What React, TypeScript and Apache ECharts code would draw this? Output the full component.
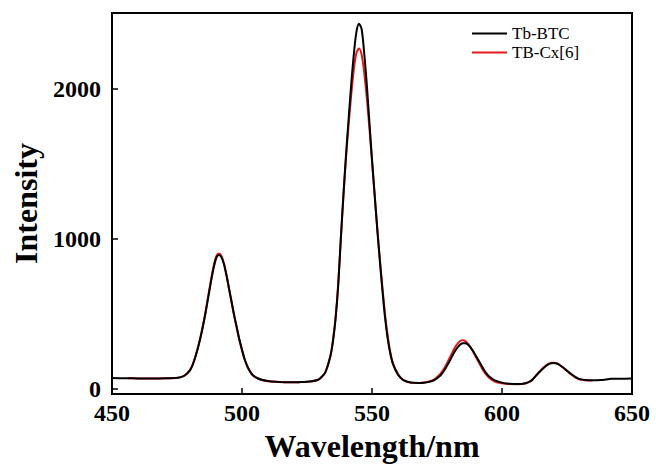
import React, { useEffect, useRef } from "react";
import * as echarts from "echarts";

const wavelength = [
  450, 453, 456, 460, 464, 468, 472, 474, 476, 478,
  480, 481, 482, 483, 484, 485, 486, 487, 488, 489,
  490, 491, 492, 493, 494, 495, 496, 497, 498, 499,
  500, 501, 502, 503, 504, 506, 508, 510, 513, 516,
  519, 522, 525, 527, 529, 530, 532, 534, 535, 536,
  537, 538, 539, 540, 541, 542, 543, 544, 545, 546,
  547, 548, 549, 550, 551, 552, 553, 554, 555, 556,
  557, 558, 560, 562, 565, 568, 570, 572, 574, 576,
  577, 578, 579, 580, 581, 582, 583, 584, 585, 586,
  587, 588, 589, 590, 591, 592, 593, 594, 595, 597,
  600, 603, 606, 609, 611, 612, 613, 614, 615, 616,
  617, 618, 619, 620, 621, 622, 623, 624, 625, 626,
  627, 628, 629, 630, 632, 635, 638, 640, 642, 645,
  650,
];

const tbBtc = [
  73, 72, 72, 71, 71, 71, 72, 73, 77, 90,
  125, 160, 210, 270, 340, 420, 510, 610, 710, 800,
  868, 893, 882, 835, 760, 670, 580, 490, 410, 330,
  262, 200, 155, 120, 96, 72, 60, 53, 48, 46,
  45, 46, 48, 52, 60, 70, 110, 220, 320, 470,
  690, 1000, 1290, 1560, 1800, 2030, 2230, 2380, 2435, 2400,
  2240, 2030, 1780, 1530, 1300, 1070, 860, 660, 480, 340,
  240, 170, 95, 60, 43, 40, 42, 48, 60, 85,
  105, 130, 160, 190, 225, 255, 280, 298, 306, 305,
  295, 275, 250, 220, 190, 160, 130, 105, 85, 60,
  43, 35, 33, 39, 53, 68, 88, 107, 124, 140,
  155, 166, 172, 173, 170, 162, 150, 137, 122, 108,
  95, 83, 73, 66, 60, 58, 60, 64, 68, 69,
  70,
];

const tbCx6 = [
  null, null, 72, 71, 70, 71, 72, 73, 78, 92,
  128, 163, 213, 274, 345, 425, 518, 620, 720, 812,
  880, 903, 890, 842, 765, 672, 580, 488, 405, 325,
  258, 197, 152, 118, 94, 71, 59, 52, 48, 46,
  45, 46, 48, 52, 60, 70, 110, 220, 330, 480,
  700, 1000, 1280, 1540, 1760, 1960, 2130, 2240, 2270, 2230,
  2110, 1940, 1740, 1520, 1300, 1080, 870, 680, 500, 360,
  250, 175, 100, 62, 42, 40, 43, 50, 65, 95,
  118, 145, 178, 212, 248, 280, 305, 322, 326, 318,
  300, 275, 245, 212, 180, 148, 118, 95, 75, 52,
  38, 33, 32, 37, 52, 68, 88, 108, 126, 143,
  158, 169, 175, 176, 172, 163, 150, 136, 120, 105,
  92, 80, 71, 64, 59, 57, null, null, null, null,
  null,
];

const xTicks = [450, 500, 550, 600, 650];
const yTicks = [0, 1000, 2000];
const seriesNames = ["Tb-BTC", "TB-Cx[6]"];

const FONT = "'Liberation Serif', 'Times New Roman', serif";

export default function App() {
  const ref = useRef<HTMLDivElement>(null);
  useEffect(() => {
    if (!ref.current) return;
    const chart = echarts.init(ref.current, undefined, { renderer: "svg" });
    const pair = (vals: (number | null)[]) =>
      wavelength.map((w, i) => [w, vals[i]]);
    chart.setOption({
      animation: false,
      backgroundColor: "#fff",
      grid: {
        left: 112,
        right: 24,
        top: 13,
        bottom: 74,
        containLabel: false,
        outerBoundsMode: "none",
        show: true,
        borderColor: "#000",
        borderWidth: 2,
      },
      legend: {
        data: seriesNames.map((n) => ({ name: n, icon: "rect" })),
        orient: "vertical",
        left: 467,
        top: 20,
        itemWidth: 35,
        itemHeight: 2,
        itemGap: 2,
        textStyle: { fontFamily: FONT, fontSize: 17, color: "#000" },
      },
      xAxis: {
        type: "value",
        min: 450,
        max: 650,
        name: "Wavelength/nm",
        nameLocation: "middle",
        nameGap: 26,
        nameTextStyle: {
          fontFamily: FONT,
          fontSize: 32,
          fontWeight: "bold",
          color: "#000",
        },
        axisLine: {
          show: true,
          onZero: false,
          lineStyle: { color: "#000", width: 2 },
        },
        axisTick: {
          show: true,
          inside: true,
          length: 6,
          lineStyle: { color: "#000", width: 1.5 },
          customValues: xTicks,
        },
        axisLabel: {
          fontFamily: FONT,
          fontSize: 24,
          fontWeight: "bold",
          color: "#000",
          margin: 7,
          customValues: xTicks,
          formatter: (v: number) => String(v),
        },
        splitLine: { show: false },
      },
      yAxis: {
        type: "value",
        min: -33,
        max: 2507,
        name: "Intensity",
        nameLocation: "middle",
        nameGap: 66,
        nameRotate: 90,
        nameTextStyle: {
          fontFamily: FONT,
          fontSize: 32,
          fontWeight: "bold",
          color: "#000",
        },
        axisLine: {
          show: true,
          onZero: false,
          lineStyle: { color: "#000", width: 2 },
        },
        axisTick: {
          show: true,
          inside: true,
          length: 6,
          lineStyle: { color: "#000", width: 1.5 },
          customValues: yTicks,
        },
        axisLabel: {
          fontFamily: FONT,
          fontSize: 24,
          fontWeight: "bold",
          color: "#000",
          margin: 11,
          customValues: yTicks,
          formatter: (v: number) => String(v),
        },
        splitLine: { show: false },
      },
      series: [
        {
          name: seriesNames[0],
          type: "line",
          data: pair(tbBtc),
          showSymbol: false,
          symbol: "none",
          smooth: 0.3,
          z: 3,
          lineStyle: { color: "#000", width: 2 },
          itemStyle: { color: "#000" },
        },
        {
          name: seriesNames[1],
          type: "line",
          data: pair(tbCx6),
          showSymbol: false,
          symbol: "none",
          smooth: 0.3,
          z: 2,
          lineStyle: { color: "#e31a1c", width: 2 },
          itemStyle: { color: "#e31a1c" },
        },
      ],
    });
    return () => chart.dispose();
  }, []);
  return (
    <div
      ref={ref}
      style={{ position: "absolute", left: 0, top: 0, width: 656, height: 468 }}
    />
  );
}
